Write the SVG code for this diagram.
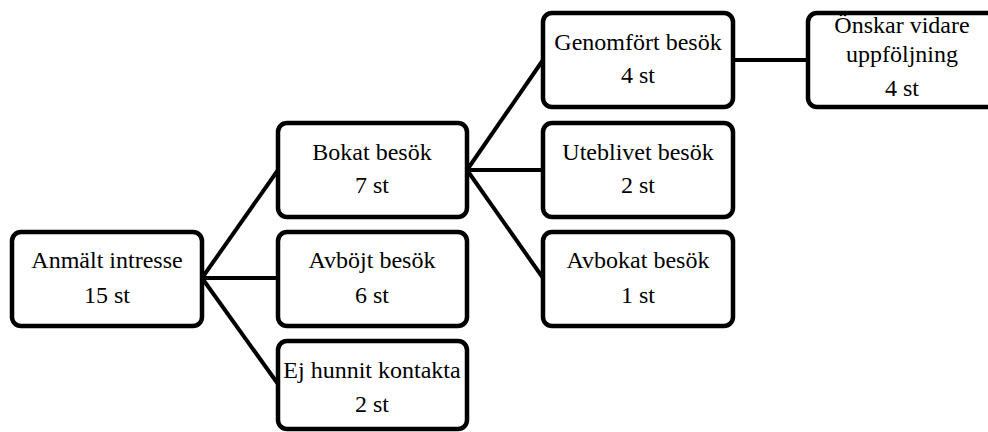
<svg xmlns="http://www.w3.org/2000/svg" width="988" height="432" viewBox="0 0 988 432">
  <style>
    .box { fill: #fff; stroke: #000; stroke-width: 4.5; }
    .link { stroke: #000; stroke-width: 4; fill: none; }
    svg g text { font-family: "Liberation Serif", "Times New Roman", serif !important; font-size: 24px; text-anchor: middle; fill: #000; }
  </style>
  <rect width="988" height="432" fill="#fff"/>
  <!-- tree branches -->
  <g id="connectors">
    <line class="link" x1="202" y1="278" x2="278" y2="170"/>
    <line class="link" x1="202" y1="278" x2="278" y2="278"/>
    <line class="link" x1="202" y1="278" x2="278" y2="384"/>
    <line class="link" x1="467" y1="170" x2="543" y2="60"/>
    <line class="link" x1="467" y1="170" x2="543" y2="170"/>
    <line class="link" x1="467" y1="170" x2="543" y2="278"/>
    <line class="link" x1="733" y1="60" x2="808" y2="60"/>
  </g>
  <g id="anmalt">
    <rect class="box" x="12" y="232" width="190" height="94" rx="9"/>
    <text x="107" y="268" style="font-family: 'Liberation Serif', serif !important">Anmält intresse</text>
    <text x="107" y="303" style="font-family: 'Liberation Serif', serif !important">15 st</text>
  </g>
  <g id="bokat">
    <rect class="box" x="278" y="123" width="189" height="94" rx="9"/>
    <text x="372" y="160" style="font-family: 'Liberation Serif', serif !important">Bokat besök</text>
    <text x="372" y="193" style="font-family: 'Liberation Serif', serif !important">7 st</text>
  </g>
  <g id="avbojt">
    <rect class="box" x="278" y="232" width="189" height="94" rx="9"/>
    <text x="372" y="268" style="font-family: 'Liberation Serif', serif !important">Avböjt besök</text>
    <text x="372" y="303" style="font-family: 'Liberation Serif', serif !important">6 st</text>
  </g>
  <g id="ej-hunnit">
    <rect class="box" x="278" y="341" width="189" height="88" rx="9"/>
    <text x="372" y="378" style="font-family: 'Liberation Serif', serif !important">Ej hunnit kontakta</text>
    <text x="372" y="412" style="font-family: 'Liberation Serif', serif !important">2 st</text>
  </g>
  <g id="genomfort">
    <rect class="box" x="543" y="13" width="190" height="94" rx="9"/>
    <text x="638" y="50" style="font-family: 'Liberation Serif', serif !important">Genomfört besök</text>
    <text x="638" y="83" style="font-family: 'Liberation Serif', serif !important">4 st</text>
  </g>
  <g id="uteblivet">
    <rect class="box" x="543" y="123" width="190" height="94" rx="9"/>
    <text x="638" y="160" style="font-family: 'Liberation Serif', serif !important">Uteblivet besök</text>
    <text x="638" y="193" style="font-family: 'Liberation Serif', serif !important">2 st</text>
  </g>
  <g id="avbokat">
    <rect class="box" x="543" y="232" width="190" height="94" rx="9"/>
    <text x="638" y="268" style="font-family: 'Liberation Serif', serif !important">Avbokat besök</text>
    <text x="638" y="303" style="font-family: 'Liberation Serif', serif !important">1 st</text>
  </g>
  <g id="onskar">
    <rect class="box" x="808" y="13" width="190" height="94" rx="9"/>
    <text x="902" y="33" style="font-family: 'Liberation Serif', serif !important">Önskar vidare</text>
    <text x="902" y="62" style="font-family: 'Liberation Serif', serif !important">uppföljning</text>
    <text x="902" y="96" style="font-family: 'Liberation Serif', serif !important">4 st</text>
  </g>
</svg>
